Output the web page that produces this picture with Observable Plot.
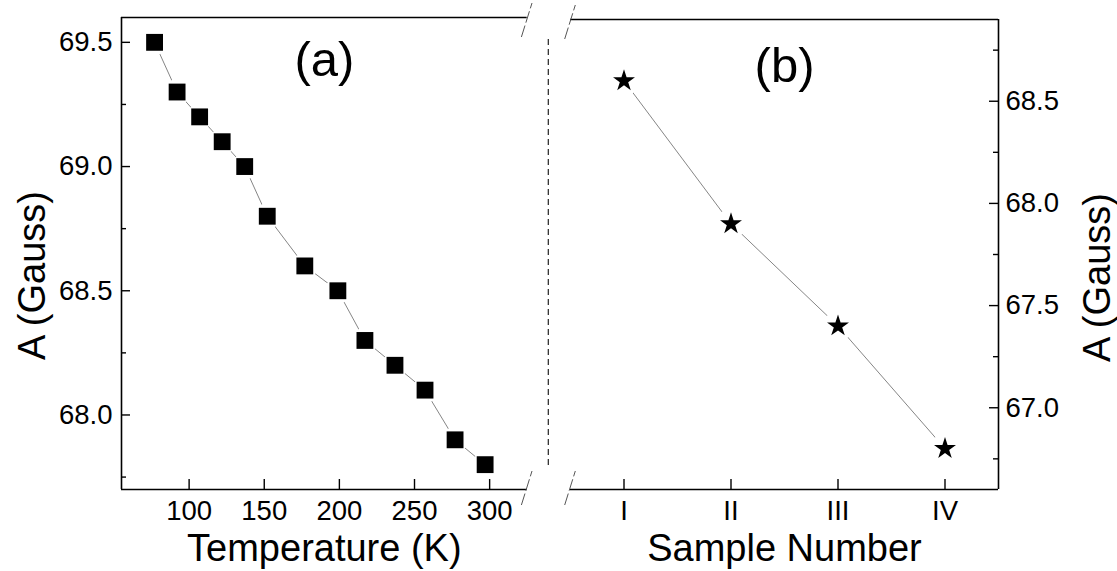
<!DOCTYPE html>
<html>
<head>
<meta charset="utf-8">
<script src="https://cdn.jsdelivr.net/npm/d3@7"></script>
<script src="https://cdn.jsdelivr.net/npm/@observablehq/plot@0.6"></script>
<style>
  html, body { margin: 0; padding: 0; background: #fff; }
  #chart { position: relative; width: 1117px; height: 571px; background: #fff; overflow: hidden; }
  #chart svg { position: absolute; left: 0; top: 0; }
</style>
</head>
<body>
<div id="chart"></div>
<script>
// ---- data ----
const temperature = [77, 92, 107, 122, 137, 152, 177, 199, 217, 237, 257, 277, 297];
const aTemperature = [69.5, 69.3, 69.2, 69.1, 69.0, 68.8, 68.6, 68.5, 68.3, 68.2, 68.1, 67.9, 67.8];
const sampleLabels = ["I", "II", "III", "IV"];
const sampleNumber = [1, 2, 3, 4];
const aSample = [68.6, 67.9, 67.4, 66.8];
const tempTicks = [100, 150, 200, 250, 300];
const leftMajor = [68.0, 68.5, 69.0, 69.5];
const leftMinor = [67.75, 68.25, 68.75, 69.25];
const rightMajor = [67.0, 67.5, 68.0, 68.5];
const rightMinor = [66.75, 67.25, 67.75, 68.25, 68.75];

// ---- layout ----
const W = 1117, H = 571;
const FONT = "'Liberation Sans', Arial, Helvetica, sans-serif";
const tickFont = 27.5, titleFont = 38, panelFont = 49;
const AX = 1.6;

const leftData = temperature.map((t, i) => ({t, a: aTemperature[i]}));
const rightData = sampleNumber.map((n, i) => ({n, a: aSample[i]}));

function breakMarks(side) {
  return (index, scales, values, dims) => {
    const g = d3.create("svg:g").attr("stroke", "#555").attr("stroke-width", 1).attr("fill", "none");
    const x = side === "right" ? dims.width - dims.marginRight : dims.marginLeft;
    const ys = [dims.marginTop + 3, dims.height - dims.marginBottom - 1];
    for (const y of ys) {
      g.append("line")
        .attr("x1", x - 5.3).attr("y1", y + 17)
        .attr("x2", x + 5.3).attr("y2", y - 17)
        .attr("stroke-dasharray", "12,3");
    }
    return g.node();
  };
}

function divider(index, scales, values, dims) {
  const x = dims.width - dims.marginRight + 21.6;
  return d3.create("svg:line")
    .attr("x1", x).attr("x2", x)
    .attr("y1", dims.marginTop + 22).attr("y2", dims.height - dims.marginBottom - 21)
    .attr("stroke", "#222").attr("stroke-width", 1.2)
    .attr("stroke-dasharray", "6,4").node();
}

// ---- left panel ----
const L = {ml: 121, mr: W - 526.7, mt: 17, mb: 82};
const lfw = W - L.ml - L.mr, lfh = H - L.mt - L.mb;
const lx = [55, 325], ly = [67.7, 69.6];

const left = Plot.plot({
  width: W, height: H,
  marginLeft: L.ml, marginRight: L.mr, marginTop: L.mt, marginBottom: L.mb,
  x: {domain: lx},
  y: {domain: ly},
  style: {fontFamily: FONT, fontSize: tickFont + "px", background: "transparent", color: "black", overflow: "visible"},
  marks: [
    Plot.ruleX([lx[0]], {strokeWidth: AX}),
    Plot.ruleY([ly[0]], {strokeWidth: AX}),
    Plot.ruleY([ly[1]], {strokeWidth: AX}),
    Plot.ruleY(leftMajor, {insetRight: lfw - 9, strokeWidth: 1.4}),
    Plot.ruleY(leftMinor, {insetRight: lfw - 5, strokeWidth: 1.4}),
    Plot.ruleX(tempTicks, {insetTop: lfh - 10, strokeWidth: 1.4}),
    Plot.axisY({ticks: leftMajor, tickSize: 0, tickPadding: 9, fontSize: tickFont, tickFormat: d3.format(".1f"), label: null}),
    Plot.axisX({ticks: tempTicks, tickSize: 0, tickPadding: 11, fontSize: tickFont, label: null}),
    Plot.line(leftData, {x: "t", y: "a", stroke: "#666", strokeWidth: 0.8}),
    Plot.dot(leftData, {x: "t", y: "a", r: 13, fill: "white", stroke: null}),
    Plot.dot(leftData, {x: "t", y: "a", symbol: "square", r: 9.5, fill: "black", stroke: null}),
    Plot.text(["(a)"], {frameAnchor: "top", lineAnchor: "top", dy: 24, fontSize: panelFont, text: d => d}),
    Plot.text(["Temperature (K)"], {frameAnchor: "bottom", lineAnchor: "top", dy: 45, fontSize: titleFont, text: d => d}),
    Plot.text(["A (Gauss)"], {frameAnchor: "left", textAnchor: "middle", rotate: -90, dx: -89, dy: 22, fontSize: titleFont, text: d => d}),
    breakMarks("right"),
    divider
  ]
});

// ---- right panel ----
const R = {ml: 570, mr: W - 998, mt: 19, mb: 82};
const rfw = W - R.ml - R.mr, rfh = H - R.mt - R.mb;
const rx = [0.5, 4.5], ry = [66.6, 68.9];

const right = Plot.plot({
  width: W, height: H,
  marginLeft: R.ml, marginRight: R.mr, marginTop: R.mt, marginBottom: R.mb,
  x: {domain: rx},
  y: {domain: ry},
  style: {fontFamily: FONT, fontSize: tickFont + "px", background: "transparent", color: "black", overflow: "visible"},
  marks: [
    Plot.ruleX([rx[1]], {strokeWidth: AX}),
    Plot.ruleY([ry[0]], {strokeWidth: AX}),
    Plot.ruleY([ry[1]], {strokeWidth: AX}),
    Plot.ruleY(rightMajor, {insetLeft: rfw - 9, strokeWidth: 1.4}),
    Plot.ruleY(rightMinor, {insetLeft: rfw - 5, strokeWidth: 1.4}),
    Plot.ruleX(sampleNumber, {insetTop: rfh - 10, strokeWidth: 1.4}),
    Plot.axisY({anchor: "right", ticks: rightMajor, tickSize: 0, tickPadding: 7, fontSize: tickFont, tickFormat: d3.format(".1f"), label: null}),
    Plot.axisX({ticks: sampleNumber, tickSize: 0, tickPadding: 11, fontSize: tickFont, tickFormat: d => sampleLabels[d - 1], label: null}),
    Plot.line(rightData, {x: "n", y: "a", stroke: "#666", strokeWidth: 0.8}),
    Plot.dot(rightData, {x: "n", y: "a", r: 15, fill: "white", stroke: null}),
    Plot.dot(rightData, {x: "n", y: "a", symbol: "star", r: 6.9, fill: "black", stroke: null}),
    Plot.text(["(b)"], {frameAnchor: "top", lineAnchor: "top", dy: 28, fontSize: panelFont, text: d => d}),
    Plot.text(["Sample Number"], {frameAnchor: "bottom", lineAnchor: "top", dy: 45, fontSize: titleFont, text: d => d}),
    Plot.text(["A (Gauss)"], {frameAnchor: "right", textAnchor: "middle", rotate: -90, dx: 99, dy: 23, fontSize: titleFont, text: d => d}),
    breakMarks("left")
  ]
});

const chart = document.getElementById("chart");
chart.appendChild(left);
chart.appendChild(right);
</script>
</body>
</html>
